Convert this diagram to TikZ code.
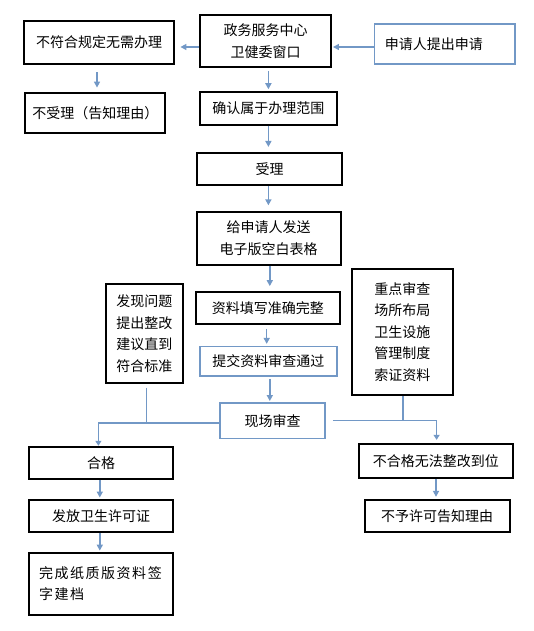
\documentclass[tikz,border=0pt]{standalone}
\usepackage{fontspec}
\setmainfont{Noto Sans CJK SC}
\usetikzlibrary{arrows.meta}
\definecolor{flowblue}{RGB}{114,152,198}
\tikzset{
	box/.style={draw=black, line width=2pt, inner sep=0pt, align=center, font=\fontsize{14pt}{21.5pt}\selectfont},
	bluebox/.style={box, draw=flowblue, line width=1.6pt},
	flow/.style={draw=flowblue, line width=1.5pt, -{Triangle[width=6pt,length=6pt]}},
	link/.style={draw=flowblue, line width=1.3pt},
	thinflow/.style={link, -{Triangle[width=6pt,length=5pt]}}
}
\begin{document}
\begin{tikzpicture}[x=1pt,y=-1pt]
	\useasboundingbox (0,0) rectangle (534,631);
	
	% top row
	\node[box, minimum width=150.6, minimum height=42.9] (noreq) at (99.1,42.5) {不符合规定无需办理};
	\node[box, minimum width=130.7, minimum height=52.4] (window) at (265.6,41.2) {政务服务中心\\卫健委窗口};
	\node[bluebox, minimum width=140.3, minimum height=40.2, text width=120pt, align=left] (apply) at (444.8,43.9) {申请人提出申请};
	\node[box, minimum width=139.7, minimum height=40.2] (reject) at (95.3,112.7) {不受理（告知理由）};
	\node[box, minimum width=136.2, minimum height=32.7] (scope) at (268.4,108.3) {确认属于办理范围};
	
	% middle column
	\node[box, minimum width=144.5, minimum height=32.1] (accept) at (269.7,169) {受理};
	\node[box, minimum width=143.7, minimum height=52.5] (sendform) at (268.7,238.4) {给申请人发送\\电子版空白表格};
	\node[box, minimum width=144.2, minimum height=31.3] (fillin) at (267.9,308) {资料填写准确完整};
	\node[bluebox, minimum width=136.9, minimum height=29.6] (submit) at (268.4,361.2) {提交资料审查通过};
	\node[bluebox, minimum width=105.3, minimum height=35.1] (onsite) at (272.6,420.8) {现场审查};
	\node[box, minimum width=77, minimum height=98.8] (rectify) at (144.4,333.5) {发现问题\\提出整改\\建议直到\\符合标准};
	\node[box, minimum width=101.2, minimum height=126.4] (keypoints) at (402.4,331.9) {重点审查\\场所布局\\卫生设施\\管理制度\\索证资料};
	
	% bottom
	\node[box, minimum width=144.8, minimum height=32] (pass) at (101,462.8) {合格};
	\node[box, minimum width=144.8, minimum height=31.7] (licence) at (101,516.1) {发放卫生许可证};
	\node[box, minimum width=144.8, minimum height=61.7, text width=124pt, align=left,
		font=\fontsize{14pt}{21.5pt}\selectfont\addfontfeatures{LetterSpace=11}] (archive) at (101,583.8) {完成纸质版资料签\\字建档};
	\node[box, minimum width=154.4, minimum height=33.7] (fail) at (435.8,461) {不合格无法整改到位};
	\node[box, minimum width=144.7, minimum height=31.7] (refuse) at (437.2,516.1) {不予许可告知理由};
	
	\draw[flow, shorten >=5pt] (window.west |- 0,47) -- (noreq.east |- 0,47);
	\draw[flow, shorten >=1pt] (apply.west |- 0,47) -- (window.east |- 0,47);
	\draw[flow, shorten <=7.5pt, shorten >=4pt] (noreq.south -| 97,0) -- (reject.north -| 97,0);
	\draw[flow, shorten <=2.4pt, shorten >=1.7pt] (window.south -| 268.4,0) -- (scope.north -| 268.4,0);
	\draw[flow, shorten >=5pt] (scope.south -| 268.4,0) -- (accept.north -| 268.4,0);
	\draw[flow, shorten >=5.8pt] (accept.south -| 268.4,0) -- (sendform.north -| 268.4,0);
	\draw[flow, shorten >=5.2pt] (sendform.south -| 269.8,0) -- (fillin.north -| 269.8,0);
	\draw[flow, shorten <=4pt, shorten >=1.7pt] (fillin.south -| 266.7,0) -- (submit.north -| 266.7,0);
	\draw[flow, shorten <=2pt, shorten >=1.4pt] (submit.south -| 269.8,0) -- (onsite.north -| 269.8,0);
	
	% split after on-site check
	\coordinate (jl) at (98.4,423);
	\coordinate (kj) at (146.5,423);
	\coordinate (jr) at (436.6,420.3);
	\coordinate (lj) at (403,420.3);
	\draw[link] (onsite.west |- jl) -- (jl);
	\draw[thinflow] (jl) -- (pass.north -| jl);
	\draw[link, shorten <=3.7pt] (rectify.south -| kj) -- (kj);
	\draw[link, shorten <=6.7pt] (onsite.east |- jr) -- (jr);
	\draw[thinflow, shorten >=3.3pt] (jr) -- (fail.north -| jr);
	\draw[link] (keypoints.south -| lj) -- (lj);
	
	\draw[flow, shorten >=1.7pt] (pass.south -| 99.8,0) -- (licence.north -| 99.8,0);
	\draw[flow, shorten >=1.3pt] (licence.south -| 99.8,0) -- (archive.north -| 99.8,0);
	\draw[flow, shorten >=2.4pt] (fail.south -| 436,0) -- (refuse.north -| 436,0);
\end{tikzpicture}
\end{document}
